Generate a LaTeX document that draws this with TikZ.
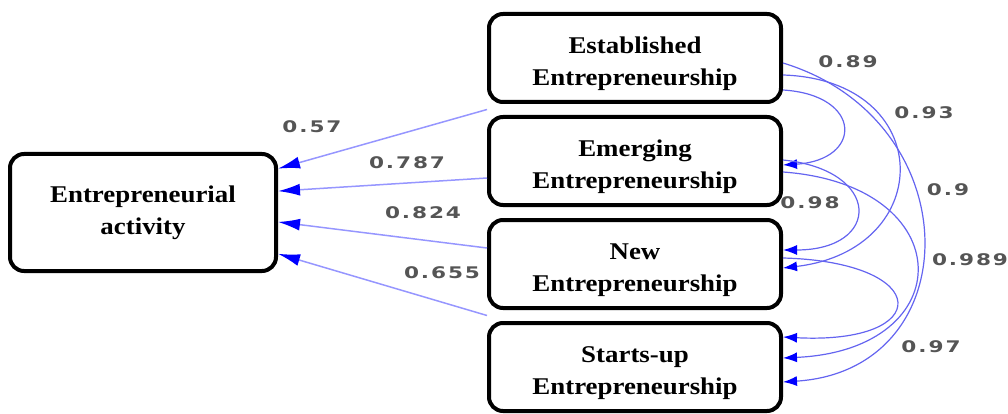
\documentclass[tikz,border=0pt]{standalone}
\usepackage{fontspec}
\usepackage{tikz}
\usetikzlibrary{positioning,arrows.meta,calc}
\newfontfamily\boxfont[FakeStretch=1.12]{Liberation Serif}
\newfontfamily\numfont[FakeStretch=1.35,LetterSpace=12]{DejaVu Sans}
\newcommand{\topstrut}{\rule{0pt}{29pt}}
\definecolor{linkblue}{RGB}{150,150,255}
\definecolor{corrblue}{RGB}{100,100,240}
\definecolor{numgray}{RGB}{85,85,85}
\tikzstyle{box} = [draw, line width=4pt, rounded corners=14pt, align=center,
    font=\boxfont\bfseries\fontsize{24}{32}\selectfont, inner sep=0pt]
\tikzstyle{factor} = [box, minimum width=292pt, minimum height=88pt]
\tikzstyle{latent} = [box, minimum width=266pt, minimum height=117pt]
\tikzstyle{weight} = [font=\numfont\bfseries\fontsize{16}{16}\selectfont, text=numgray, inner sep=0pt]
\tikzstyle{load} = [draw=linkblue, line width=1.5pt,
    -{Latex[length=22pt,width=12pt,color=blue]}]
\tikzstyle{corr} = [draw=corrblue, line width=1.2pt,
    -{Latex[length=14pt,width=10pt,color=blue]}]

\begin{document}
\begin{tikzpicture}[x=1pt, y=-1pt, node distance=11pt]
	  \useasboundingbox (0,0) rectangle (1008,414);
	  \node [factor] (est) at (635,58) {\topstrut Established\\Entrepreneurship};
	  \node [factor, below=of est] (emg) {\topstrut Emerging\\Entrepreneurship};
	  \node [factor, below=of emg] (new) {\topstrut New\\Entrepreneurship};
	  \node [factor, below=of new] (sta) {\topstrut Starts-up\\Entrepreneurship};
	  \node [latent] (act) at (143,212.5) {Entrepreneurial\\activity};
	  % loadings
	  \draw [load] ($(est.south west)!0.5!(emg.north west)$) -- (act.18);
	  \draw [load] ([yshift=-17pt]emg.west) -- (act.9);
	  \draw [load] ([yshift=16pt]new.west) -- (act.-4);
	  \draw [load] ($(new.south west)!0.5!(sta.north west)$) -- (act.-17);
	  \node [weight] (w57) at (312,127) {0.57};
	  \node [weight] (w787) at (407,163) {0.787};
	  \node [weight] (w824) at (423,213) {0.824};
	  \node [weight] (w655) at (442,273) {0.655};
	  % correlations
	  \draw [corr] ([yshift=-5pt]est.east) .. controls +(187,57) and +(187,-12) .. ([yshift=-15pt]sta.east);
	  \draw [corr] ([yshift=-17pt]est.east) .. controls +(154,5) and +(154,-18) .. ([yshift=-4pt]new.east);
	  \draw [corr] ([yshift=-32pt]est.east) .. controls +(80,5) and +(80,-5) .. ([yshift=-4pt]emg.east);
	  \draw [corr] ([yshift=1pt]emg.east) .. controls +(99,10) and +(99,0) .. ([yshift=14pt]new.east);
	  \draw [corr] ([yshift=-11pt]emg.east) .. controls +(178,13) and +(178,-8) .. ([yshift=9pt]sta.east);
	  \draw [corr] ([yshift=6pt]new.east) .. controls +(151,4) and +(151,8) .. ([yshift=30pt]sta.east);
	  \node [weight] (w89) at (848,62) {0.89};
	  \node [weight] (w93) at (924,113) {0.93};
	  \node [weight] (w9) at (948,190) {0.9};
	  \node [weight] (w98) at (810,203) {0.98};
	  \node [weight] (w989) at (970,260) {0.989};
	  \node [weight] (w97) at (931,347) {0.97};
	\end{tikzpicture}
\end{document}
